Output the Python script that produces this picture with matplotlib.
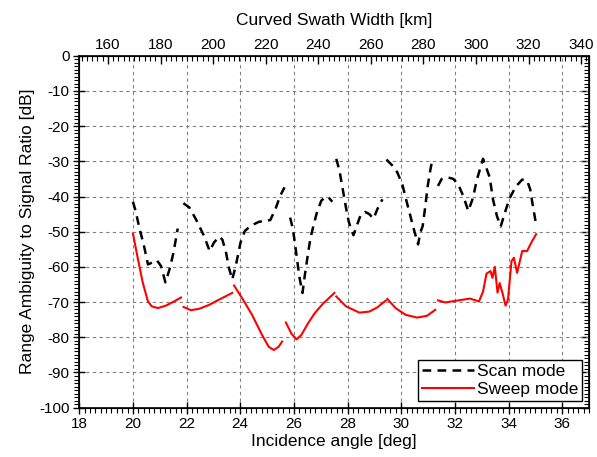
import numpy as np
import matplotlib
matplotlib.use("Agg")
import matplotlib.pyplot as plt
from matplotlib.ticker import MultipleLocator

plt.rcParams['font.family'] = ['Liberation Sans', 'DejaVu Sans']
plt.rcParams['axes.unicode_minus'] = False

nan = np.nan
# Scan mode (black dashed), sub-swath segments separated by nan
scan_angle = [20.00, 20.10, 20.25, 20.40, 20.56, 20.74, 20.89, 21.05, 21.21, 21.36, 21.51, 21.67, nan,
              21.88, 22.10, 22.35, 22.65, 22.86, 23.02, 23.21, 23.33, 23.46, 23.58, 23.70, 23.83, 24.01,
              24.17, 24.38, 24.69, 25.12, 25.31, 25.49, 25.65, nan,
              25.86, 25.94, 26.00, 26.12, 26.20, 26.32, 26.41, 26.53, 26.62, 26.71, 26.84, 27.02, 27.18,
              27.30, 27.43, nan,
              27.58, 27.70, 27.82, 27.94, 28.04, 28.13, 28.22, 28.34, 28.50, 28.66, 28.81, 28.97, 29.11,
              29.30, nan,
              29.45, 29.67, 29.85, 30.04, 30.18, 30.31, 30.47, 30.63, 30.71, 30.80, 30.90, 30.98, 31.08,
              31.14, nan,
              31.37, 31.51, 31.75, 31.94, 32.12, 32.31, 32.50, 32.68, 32.81, 33.05, 33.30, 33.42, 33.57,
              33.71, 33.86, 34.04, 34.27, 34.51, 34.69, 34.81, 34.91, 35.03]
scan_db = [-41.5, -44.1, -49.3, -53.6, -59.3, -58.7, -58.1, -59.8, -64.4, -60.8, -56.0, -49.1, nan,
           -41.9, -43.1, -46.5, -51.2, -55.5, -53.1, -51.4, -52.2, -55.5, -60.3, -63.6, -59.8, -53.1,
           -49.8, -48.4, -47.2, -46.7, -43.6, -39.8, -37.4, nan,
           -46.0, -48.5, -51.2, -57.9, -62.7, -67.4, -62.2, -56.0, -51.7, -48.9, -45.0, -41.2, -40.1,
           -40.3, -41.5, nan,
           -29.3, -32.7, -37.9, -43.1, -47.0, -49.3, -51.0, -48.4, -45.0, -44.4, -45.0, -46.3, -43.6,
           -40.8, nan,
           -29.5, -31.2, -33.1, -36.5, -40.8, -44.6, -49.3, -53.6, -50.3, -48.4, -42.7, -37.4, -32.7,
           -30.3, nan,
           -37.0, -35.0, -34.6, -35.0, -36.5, -39.8, -44.1, -40.3, -35.5, -29.3, -34.6, -40.8, -45.6,
           -48.5, -44.7, -40.5, -37.2, -35.2, -35.4, -38.0, -42.8, -48.0]

# Sweep mode (red solid)
sweep_angle = [20.00, 20.19, 20.37, 20.56, 20.70, 20.93, 21.23, 21.54, 21.79, nan,
               21.89, 22.16, 22.47, 22.84, 23.21, 23.70, nan,
               23.77, 24.07, 24.44, 24.81, 25.06, 25.25, 25.43, 25.56, nan,
               25.70, 25.91, 26.10, 26.28, 26.53, 26.78, 27.08, 27.51, nan,
               27.58, 27.94, 28.44, 28.81, 29.11, 29.42, nan,
               29.48, 29.79, 30.16, 30.59, 30.96, 31.27, nan,
               31.37, 31.64, 32.06, 32.56, 32.90, 33.05, 33.18, 33.33, 33.40, 33.49, 33.59, 33.67,
               33.77, 33.89, 33.98, 34.11, 34.20, 34.32, 34.51, 34.69, 34.85, 35.03]
sweep_db = [-50.5, -57.9, -64.6, -69.8, -71.2, -71.7, -71.0, -69.8, -68.7, nan,
            -71.4, -72.3, -71.9, -70.8, -69.3, -67.4, nan,
            -65.3, -68.9, -73.6, -79.3, -82.7, -83.6, -82.7, -81.2, nan,
            -75.8, -79.0, -80.6, -79.3, -76.0, -73.1, -70.5, -67.4, nan,
            -68.4, -71.2, -73.0, -72.7, -71.5, -69.6, nan,
            -69.1, -71.7, -73.6, -74.4, -73.9, -72.2, nan,
            -69.5, -70.1, -69.6, -69.0, -69.8, -67.0, -61.9, -61.2, -63.1, -60.0, -67.3, -64.6,
            -67.3, -71.0, -69.3, -58.4, -57.4, -61.7, -55.5, -55.5, -53.1, -50.7]

xticks_bottom = [18, 20, 22, 24, 26, 28, 30, 32, 34, 36]
xticks_top = [160, 180, 200, 220, 240, 260, 280, 300, 320, 340]
yticks = [0, -10, -20, -30, -40, -50, -60, -70, -80, -90, -100]

fig = plt.figure(figsize=(5.97, 4.57), dpi=100)
ax = fig.add_axes([0.1328, 0.1079, 0.8538, 0.7702])

ax.plot(scan_angle, scan_db, color='black', lw=1.8, linestyle=(0, (3.5, 2.5)), label='Scan mode')
ax.plot(sweep_angle, sweep_db, color='red', lw=1.5, label='Sweep mode')

ax.set_xlim(18, 37)
ax.set_ylim(-100, 0)
ax.set_xticks(xticks_bottom)
ax.set_yticks(yticks)
ax.xaxis.set_minor_locator(MultipleLocator(0.2))
ax.yaxis.set_minor_locator(MultipleLocator(1))
ax.tick_params(which='major', direction='inout', length=8, width=1, labelsize=11, pad=3)
ax.tick_params(which='minor', direction='out', length=3.5, width=0.8)
ax.grid(True, which='major', linestyle=(0, (3, 3)), color='gray', linewidth=0.8)
ax.set_xlabel('Incidence angle [deg]', fontsize=12.5, labelpad=2)
ax.set_ylabel('Range Ambiguity to Signal Ratio [dB]', fontsize=12.5, labelpad=3)
for s in ax.spines.values():
    s.set_linewidth(1.2)

# top axis
axt = ax.twiny()
axt.set_xlim(149.1, 343.0)
axt.set_xticks(xticks_top)
axt.xaxis.set_minor_locator(MultipleLocator(2))
axt.tick_params(which='major', direction='in', length=6, width=1, labelsize=11, pad=3)
axt.tick_params(which='minor', direction='in', length=3.5, width=0.8)
axt.set_xlabel('Curved Swath Width [km]', fontsize=12.5, labelpad=9)

# right axis ticks
axr = ax.secondary_yaxis('right')
axr.set_yticks(yticks)
axr.yaxis.set_minor_locator(MultipleLocator(1))
axr.tick_params(which='major', direction='in', length=6, width=1, labelright=False)
axr.tick_params(which='minor', direction='in', length=3.5, width=0.8)

leg = ax.legend(loc='lower right', fontsize=12.5, frameon=True, fancybox=False, edgecolor='black',
                framealpha=1, borderpad=0.2, labelspacing=0.2, handlelength=3.0,
                handletextpad=0.2, borderaxespad=0.4)
leg.get_frame().set_linewidth(1.0)

fig.savefig('out.png', dpi=100)
